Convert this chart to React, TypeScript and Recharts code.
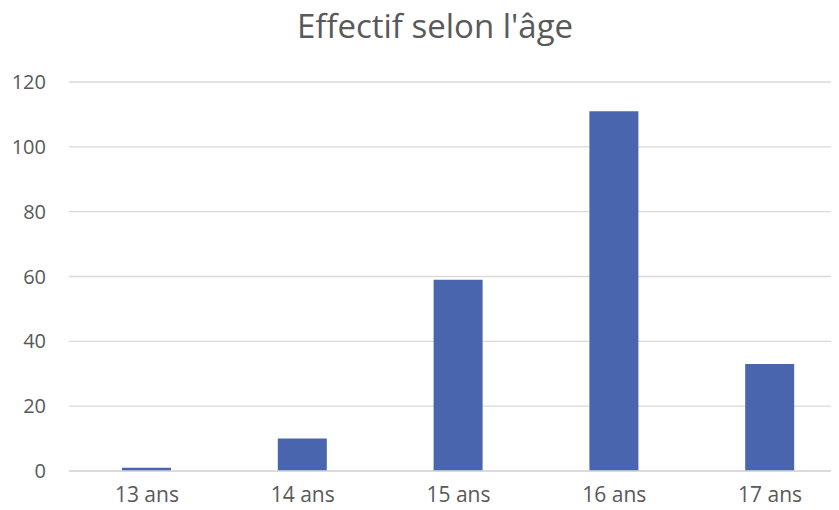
import { BarChart, Bar, XAxis, YAxis, CartesianGrid } from 'recharts'

const ages = ['13 ans', '14 ans', '15 ans', '16 ans', '17 ans']
const effectifs = [1, 10, 59, 111, 33]
const yTicks = [0, 20, 40, 60, 80, 100, 120]

const data = ages.map((age, i) => ({ age, effectif: effectifs[i] }))

const font = '"Open Sans", "Noto Sans", sans-serif'
const textColor = '#595959'

export default function App() {
  return (
    <div
      style={{
        position: 'relative',
        width: 839,
        height: 510,
        margin: -8,
        overflow: 'hidden',
        background: '#fff',
        fontFamily: font,
      }}
    >
      <div
        style={{
          position: 'absolute',
          top: 3,
          left: 0,
          width: 870,
          textAlign: 'center',
          fontSize: 33,
          color: textColor,
        }}
      >
        Effectif selon l'âge
      </div>
      <BarChart
        width={850}
        height={510}
        data={data}
        margin={{ top: 82, right: 2, bottom: 0, left: 0 }}
        barSize={49}
      >
        <CartesianGrid vertical={false} stroke="#d9d9d9" strokeWidth={1.3} />
        <XAxis
          dataKey="age"
          height={39}
          axisLine={{ stroke: '#d9d9d9', strokeWidth: 1.3 }}
          tickLine={false}
          tickSize={0}
          tickMargin={16}
          tick={{ fill: textColor, fontSize: 21, fontFamily: font }}
        />
        <YAxis
          width={69}
          domain={[0, 120]}
          ticks={yTicks}
          axisLine={false}
          tickLine={false}
          tickSize={0}
          tickMargin={23}
          tick={{ fill: textColor, fontSize: 20, fontFamily: font }}
        />
        <Bar dataKey="effectif" fill="#4965ad" isAnimationActive={false} />
      </BarChart>
    </div>
  )
}
